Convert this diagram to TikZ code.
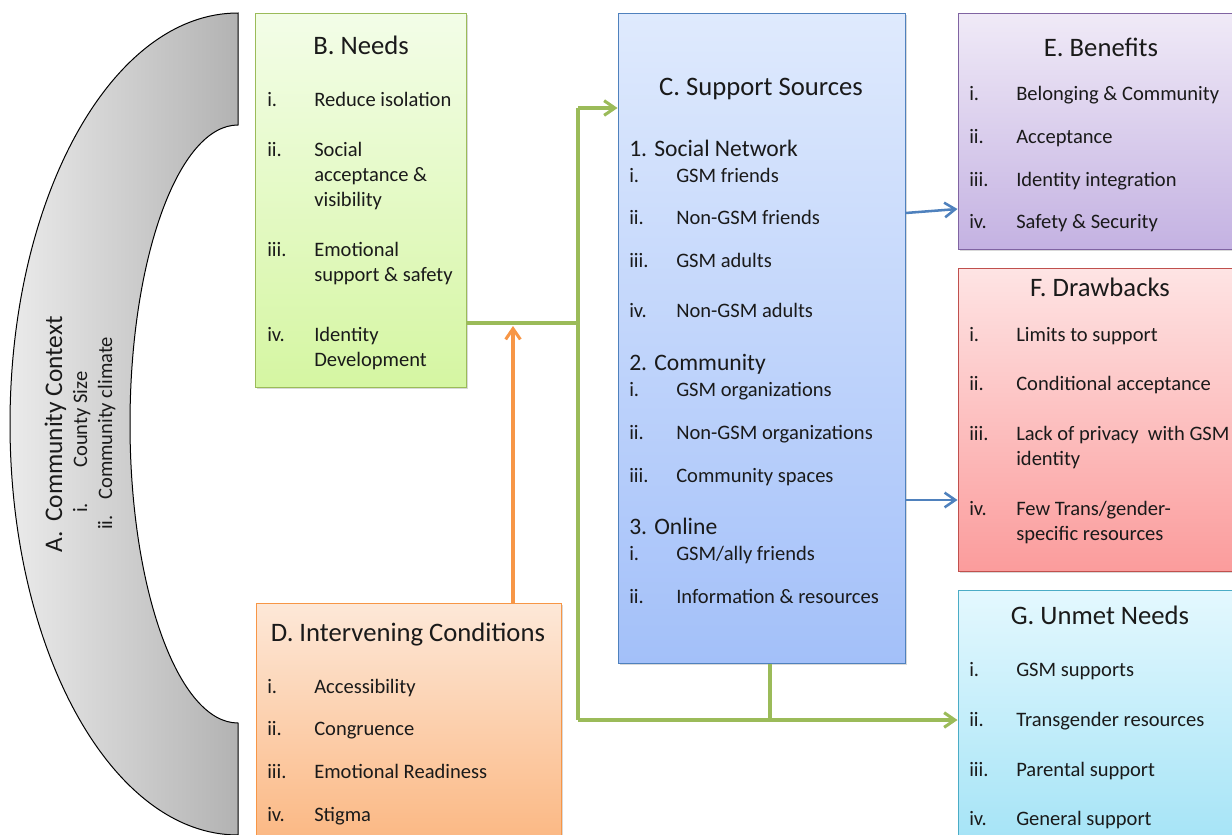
\documentclass[tikz,border=0pt]{standalone}
\usepackage{fontspec}
\setmainfont{Carlito}
\usetikzlibrary{arrows.meta,shadows,fit}

% colours of the boxes and connectors
\definecolor{txt}{HTML}{1A1A1A}
\definecolor{grnTop}{HTML}{F3FDE8}\definecolor{grnBot}{HTML}{D5F6A2}\definecolor{grnLine}{HTML}{9BBB59}
\definecolor{bluTop}{HTML}{DFEAFD}\definecolor{bluBot}{HTML}{A3C0F9}\definecolor{bluLine}{HTML}{4F81BD}
\definecolor{orgTop}{HTML}{FDE8D8}\definecolor{orgBot}{HTML}{FBB680}\definecolor{orgLine}{HTML}{F79646}
\definecolor{purTop}{HTML}{F0EAF7}\definecolor{purBot}{HTML}{C4B2E2}\definecolor{purLine}{HTML}{8064A2}
\definecolor{redTop}{HTML}{FEE4E4}\definecolor{redBot}{HTML}{FB9C9C}\definecolor{redLine}{HTML}{C0504D}
\definecolor{cyaTop}{HTML}{E4F8FE}\definecolor{cyaBot}{HTML}{A3E3F6}\definecolor{cyaLine}{HTML}{4BACC6}

\newcommand{\bodysize}{\fontsize{15.4}{18}\selectfont}
\newcommand{\titlesize}{\fontsize{20}{24}\selectfont}
\newcommand{\headsize}{\fontsize{17.7}{21}\selectfont}
\newcommand{\arcsize}{\fontsize{19}{22}\selectfont}

% one list entry: name, x of label, baseline y, label, text
\newcommand{\entry}[5]{%
  \node[lbl] (#1l) at (#2,#3) {#4};
  \node[lbl] (#1t) at (#2+47,#3) {#5};}
% a continuation line of a list entry
\newcommand{\cont}[4]{\node[lbl] (#1) at (#2+47,#3) {#4};}

\tikzset{
  panel/.style={draw=#1, line width=0.75pt, inner sep=0pt,
    drop shadow={shadow xshift=1.6pt, shadow yshift=-1.6pt, opacity=0.3}},
  lbl/.style={anchor=base west, inner sep=0pt, text=txt, font=\bodysize},
  ttl/.style={anchor=base, inner sep=0pt, text=txt, font=\titlesize},
  head/.style={anchor=base west, inner sep=0pt, text=txt, font=\headsize},
  vlbl/.style={rotate=90, anchor=base west, inner sep=0pt, text=txt},
  gline/.style={draw=grnLine, line width=2.3pt},
  garrow/.style={gline, -{Straight Barb[length=8pt, width=11pt, line width=2.3pt]}},
  oarrow/.style={draw=orgLine, line width=2.3pt, -{Straight Barb[length=8pt, width=11pt, line width=2.3pt]}},
  barrow/.style={draw=bluLine, line width=1.9pt, -{Straight Barb[length=8pt, width=11pt, line width=1.9pt]}},
}

\begin{document}
\begin{tikzpicture}[x=0.75pt, y=-0.75pt]
\useasboundingbox (0,0) rectangle (1232,835);
\clip (0,0) rectangle (1232,835);

% A. community context: half ring on the left
\draw[line width=0.75pt, left color=black!8, right color=black!30]
  (238,13) arc[start angle=270, end angle=90, x radius=228, y radius=411]
  -- (238,723) arc[start angle=90, end angle=270, x radius=108, y radius=299]
  -- cycle;
\node[vlbl, font=\arcsize] (Aa) at (62,553) {A.};
\node[vlbl, font=\arcsize] (At) at (62,522) {Community Context};
\node[vlbl, font=\bodysize] (A1l) at (87,513) {i.};
\node[vlbl, font=\bodysize] (A1t) at (87,468) {County Size};
\node[vlbl, font=\bodysize] (A2l) at (112,530) {ii.};
\node[vlbl, font=\bodysize] (A2t) at (112,500) {Community climate};

% panels
\node[panel=grnLine, top color=grnTop, bottom color=grnBot, fit={(255,13) (466,387)}] (B) {};
\node[panel=bluLine, top color=bluTop, bottom color=bluBot, fit={(618,13) (905,663)}] (C) {};
\node[panel=orgLine, top color=orgTop, bottom color=orgBot, fit={(256,603) (561,850)}] (D) {};
\node[panel=purLine, top color=purTop, bottom color=purBot, fit={(958,13) (1245,249)}] (E) {};
\node[panel=redLine, top color=redTop, bottom color=redBot, fit={(958,268) (1245,571)}] (F) {};
\node[panel=cyaLine, top color=cyaTop, bottom color=cyaBot, fit={(958,590) (1245,850)}] (G) {};

% B. Needs
\node[ttl] (Bh) at (361,54) {B. Needs};
\entry{B1}{267}{106}{i.}{Reduce isolation}
\entry{B2}{267}{156}{ii.}{Social}
\cont{B2b}{267}{181}{acceptance \&}
\cont{B2c}{267}{206}{visibility}
\entry{B3}{267}{256}{iii.}{Emotional}
\cont{B3b}{267}{281}{support \& safety}
\entry{B4}{267}{341}{iv.}{Identity}
\cont{B4b}{267}{366}{Development}

% C. Support Sources
\node[ttl] (Ch) at (761,95) {C. Support Sources};
\node[head] (C1h) at (629,156) {1. Social Network};
\entry{C11}{629}{182}{i.}{GSM friends}
\entry{C12}{629}{224}{ii.}{Non-GSM friends}
\entry{C13}{629}{267}{iii.}{GSM adults}
\entry{C14}{629}{317}{iv.}{Non-GSM adults}
\node[head] (C2h) at (629,370) {2. Community};
\entry{C21}{629}{396}{i.}{GSM organizations}
\entry{C22}{629}{439}{ii.}{Non-GSM organizations}
\entry{C23}{629}{482}{iii.}{Community spaces}
\node[head] (C3h) at (629,534) {3. Online};
\entry{C31}{629}{560}{i.}{GSM/ally friends}
\entry{C32}{629}{603}{ii.}{Information \& resources}

% D. Intervening Conditions
\node[ttl] (Dh) at (408,641) {D. Intervening Conditions};
\entry{D1}{267}{693}{i.}{Accessibility}
\entry{D2}{267}{735}{ii.}{Congruence}
\entry{D3}{267}{778}{iii.}{Emotional Readiness}
\entry{D4}{267}{821}{iv.}{Stigma}

% E. Benefits
\node[ttl] (Eh) at (1101,56) {E. Benefits};
\entry{E1}{969}{100}{i.}{Belonging \& Community}
\entry{E2}{969}{143}{ii.}{Acceptance}
\entry{E3}{969}{186}{iii.}{Identity integration}
\entry{E4}{969}{228}{iv.}{Safety \& Security}

% F. Drawbacks
\node[ttl] (Fh) at (1100,296) {F. Drawbacks};
\entry{F1}{969}{341}{i.}{Limits to support}
\entry{F2}{969}{390}{ii.}{Conditional acceptance}
\entry{F3}{969}{440}{iii.}{Lack of privacy\ \ with GSM}
\cont{F3b}{969}{465}{identity}
\entry{F4}{969}{515}{iv.}{Few Trans/gender-}
\cont{F4b}{969}{540}{specific resources}

% G. Unmet Needs
\node[ttl] (Gh) at (1100,624) {G. Unmet Needs};
\entry{G1}{969}{676}{i.}{GSM supports}
\entry{G2}{969}{726}{ii.}{Transgender resources}
\entry{G3}{969}{776}{iii.}{Parental support}
\entry{G4}{969}{825}{iv.}{General support}

% connector junctions
\coordinate (jb) at (578,323);
\coordinate (jc) at (578,108);
\coordinate (jg) at (578,720);
\coordinate (jd) at (770,720);
\coordinate (jo) at (513,326);
\coordinate (be) at (905,213);
\coordinate (bE) at (957,209);
\coordinate (bf) at (905,500);

% green flow from needs to sources and unmet needs
\draw[gline] (jb -| B.east) -- (jb);
\draw[gline] (jc) -- (jg);
\draw[garrow] (jc) -- (jc -| C.west);
\draw[gline] (jd |- C.south) -- (jd);
\draw[garrow] (jg) -- (jg -| G.west);
% intervening conditions feed the needs link
\draw[oarrow] (jo |- D.north) -- (jo);
% sources lead to benefits and drawbacks
\draw[barrow] (be -| C.east) -- (bE -| E.west);
\draw[barrow] (bf -| C.east) -- (bf -| F.west);
\end{tikzpicture}
\end{document}
